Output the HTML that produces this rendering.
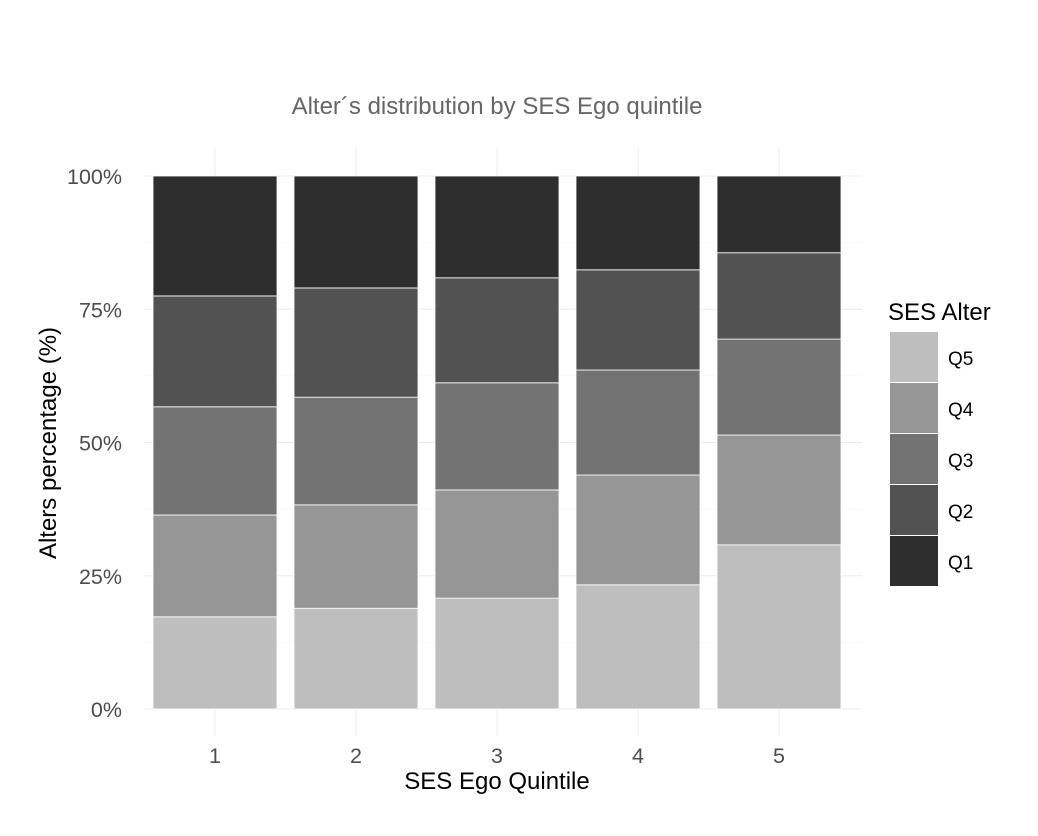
<!DOCTYPE html>
<html><head><meta charset="utf-8"><style>
body{margin:0;background:#fff}
text{font-family:"Liberation Sans",sans-serif}
</style></head><body>
<svg id="chart" width="1038" height="831" xmlns="http://www.w3.org/2000/svg">
<rect width="1038" height="831" fill="#fff"/>
<g id="grid"></g>
<g id="bars"></g>
<g id="axes"></g>
<text x="497" y="114" text-anchor="middle" font-size="24" fill="#666">Alter´s distribution by SES Ego quintile</text>
<text x="497" y="789" text-anchor="middle" font-size="24" fill="#000">SES Ego Quintile</text>
<text transform="translate(56,443) rotate(-90)" text-anchor="middle" font-size="24" fill="#000">Alters percentage (%)</text>
<g id="legend">
<text x="888" y="320" font-size="24" fill="#000">SES Alter</text>
</g>
</svg>
<script>
const categories = ["1","2","3","4","5"];
const seriesNames = ["Q5","Q4","Q3","Q2","Q1"];
const q5 = [17.3,18.9,20.8,23.3,30.8];
const q4 = [19.1,19.4,20.3,20.6,20.6];
const q3 = [20.3,20.2,20.1,19.7,18.0];
const q2 = [20.8,20.5,19.7,18.8,16.2];
const q1 = [22.5,21.0,19.1,17.6,14.4];
const yTicks = [0,25,50,75,100];
const yTickLabels = ["0%","25%","50%","75%","100%"];

const colors = ["#bebebe","#969696","#737373","#525252","#2e2e2e"];
const series = [q5,q4,q3,q2,q1];
const NS="http://www.w3.org/2000/svg";
const y0=709, y100=176, panelL=145, panelR=862, panelT=148, panelB=736;
const yScale=v=>y0-(v/100)*(y0-y100);
const xCenter=i=>215+i*141;
const bw=124;
function mk(tag,attrs,parent){const e=document.createElementNS(NS,tag);for(const k in attrs)e.setAttribute(k,attrs[k]);parent.appendChild(e);return e;}
const grid=document.getElementById('grid'), bars=document.getElementById('bars'), axes=document.getElementById('axes'), legend=document.getElementById('legend');
for(let v=-12.5; v<=112.5; v+=25){const y=yScale(v); if(y<panelT||y>panelB) continue;
 const l=mk('line',{x1:panelL,x2:panelR,y1:y,y2:y,stroke:'#f2f2f2','stroke-width':0.6},grid);
 
 }
yTicks.forEach((v,i)=>{const y=yScale(v);
 const l=mk('line',{x1:panelL,x2:panelR,y1:y,y2:y,stroke:'#ebebeb','stroke-width':1},grid);
 
 
 const t=mk('text',{x:122,y:y+8,'text-anchor':'end','font-size':21.5,fill:'#4d4d4d'},axes);
 t.textContent=yTickLabels[i];
 
 });
categories.forEach((c,i)=>{const x=xCenter(i);
 const l=mk('line',{x1:x,x2:x,y1:panelT,y2:panelB,stroke:'#ebebeb','stroke-width':1},grid);
 
 
 const t=mk('text',{x:x,y:763,'text-anchor':'middle','font-size':21.5,fill:'#4d4d4d'},axes);
 t.textContent=c;
 
 
 let cum=0;
 series.forEach((s,j)=>{const yb=yScale(cum); cum+=s[i]; const yt=yScale(Math.min(cum,100));
  const r=mk('rect',{x:x-bw/2,y:yt,width:bw,height:yb-yt,fill:colors[j],stroke:'#fff','stroke-width':0.8},bars);
  
  });
});
seriesNames.forEach((n,j)=>{const y=332+j*51;
 const r=mk('rect',{x:890,y:y,width:48,height:50,fill:colors[j]},legend);
 
 
 const t=mk('text',{x:948,y:y+33,'font-size':19,fill:'#000'},legend);
 t.textContent=n;
 
 });
</script>
</body></html>
